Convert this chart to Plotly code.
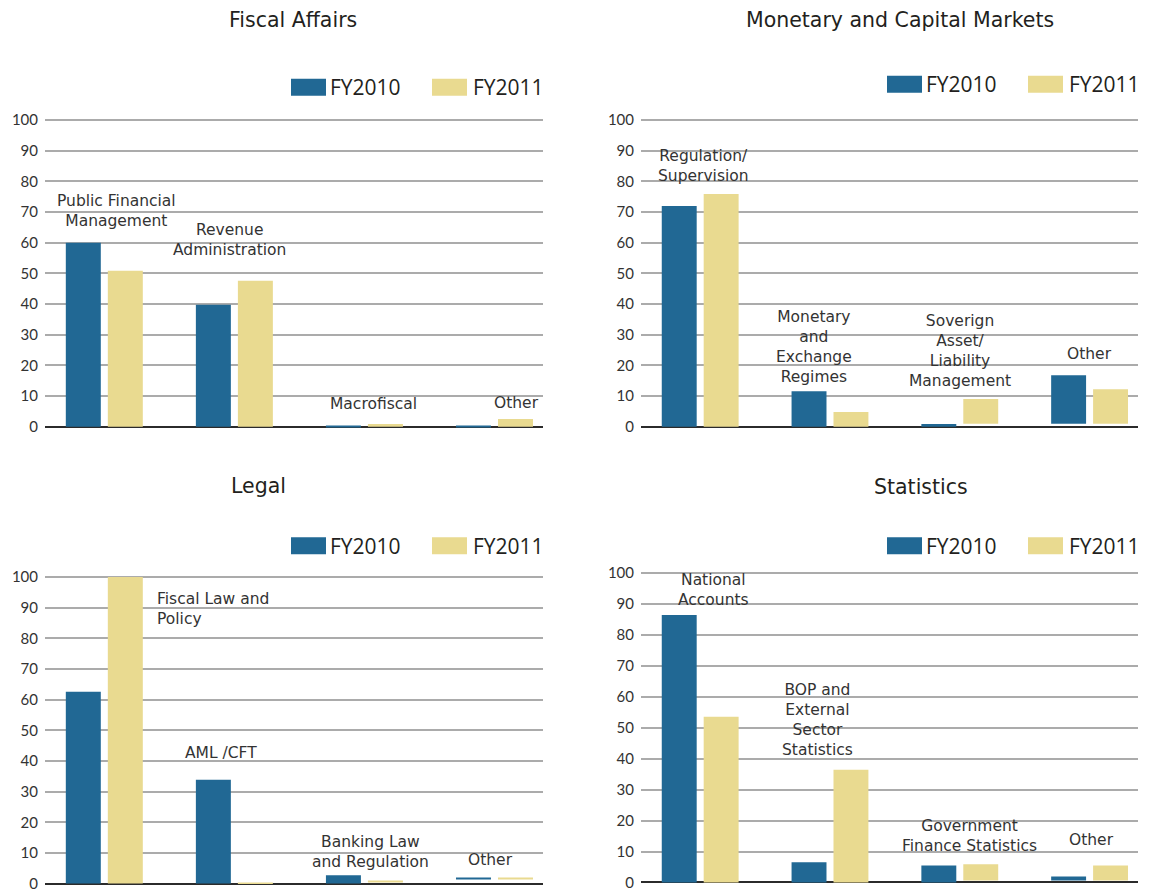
import plotly.graph_objects as go

# ---- series ----
SERIES = ["FY2010", "FY2011"]
BLUE = "#216894"
SAND = "#e9da90"

# ---- Fiscal Affairs ----
fad_categories = ["Public Financial Management", "Revenue Administration", "Macrofiscal", "Other"]
fad_labels = ["Public Financial<br>Management", "Revenue<br>Administration", "Macrofiscal", "Other"]
fad_fy2010 = [60.0, 39.8, 0.3, 0.3]
fad_fy2011 = [50.9, 47.6, 0.9, 2.5]
fad_fy2010_start = [0, 0, 0, 0]
fad_fy2011_start = [0, 0, 0, 0]

# ---- Monetary and Capital Markets ----
mcm_categories = ["Regulation/Supervision", "Monetary and Exchange Regimes",
                  "Soverign Asset/Liability Management", "Other"]
mcm_labels = ["Regulation/<br>Supervision", "Monetary<br>and<br>Exchange<br>Regimes",
              "Soverign<br>Asset/<br>Liability<br>Management", "Other"]
mcm_fy2010 = [72.0, 11.6, 0.9, 16.8]
mcm_fy2011 = [75.9, 4.8, 9.0, 12.2]
mcm_fy2010_start = [0, 0, 0, 1.0]
mcm_fy2011_start = [0, 0, 1.0, 1.0]

# ---- Legal ----
leg_categories = ["Fiscal Law and Policy", "AML /CFT", "Banking Law and Regulation", "Other"]
leg_labels = ["Fiscal Law and<br>Policy", "AML /CFT", "Banking Law<br>and Regulation", "Other"]
leg_fy2010 = [62.6, 33.9, 2.7, 1.7]
leg_fy2011 = [100.0, 0.3, 0.9, 1.7]
leg_fy2010_start = [0, 0, 0, 1.4]
leg_fy2011_start = [0, 0, 0.6, 1.4]

# ---- Statistics ----
sta_categories = ["National Accounts", "BOP and External Sector Statistics",
                  "Government Finance Statistics", "Other"]
sta_labels = ["National<br>Accounts", "BOP and<br>External<br>Sector<br>Statistics",
              "Government<br>Finance Statistics", "Other"]
sta_fy2010 = [86.5, 6.5, 5.5, 1.95]
sta_fy2011 = [53.6, 36.4, 5.85, 5.5]
sta_fy2010_start = [0, 0, 0, 0.65]
sta_fy2011_start = [0, 0, 0.65, 0.65]

Y_TICKS = [0, 10, 20, 30, 40, 50, 60, 70, 80, 90, 100]

W, H = 1150, 892
TITLE_FONT = dict(family="DejaVu Sans", size=20.5, color="#231f20")
LABEL_FONT = dict(family="DejaVu Sans", size=15.5, color="#333333")
TICK_FONT = dict(family="Lato", size=15, color="#333333")
LEGEND_FONT = dict(family="Open Sans", size=21, color="#231f20")

# panel layout (page pixels): plot box, y range, title centre, legend row,
# and label placement (y in data units, x shift in px, anchor)
panels = [
    dict(ax="", title="Fiscal Affairs",
         cats=fad_categories, labels=fad_labels,
         a=fad_fy2010, b=fad_fy2011, a0=fad_fy2010_start, b0=fad_fy2011_start,
         xdom=(45, 543), ydom=(112.6, 427.9), yrange=(-0.5, 100.5),
         title_xy=(293, 12), leg_dx=0, leg_y=72,
         place=[(70.4, 12, "center"), (60.9, -5, "center"), (7.3, 9, "center"), (7.65, 22, "center")]),
    dict(ax="2", title="Monetary and Capital Markets",
         cats=mcm_categories, labels=mcm_labels,
         a=mcm_fy2010, b=mcm_fy2011, a0=mcm_fy2010_start, b0=mcm_fy2011_start,
         xdom=(641, 1138), ydom=(112.6, 427.9), yrange=(-0.5, 100.5),
         title_xy=(900, 12), leg_dx=596, leg_y=69,
         place=[(84.9, 3, "center"), (26.1, -16, "center"), (24.8, 0, "center"), (23.6, 0, "center")]),
    dict(ax="3", title="Legal",
         cats=leg_categories, labels=leg_labels,
         a=leg_fy2010, b=leg_fy2011, a0=leg_fy2010_start, b0=leg_fy2011_start,
         xdom=(45, 543), ydom=(577.9, 892), yrange=(-0.13, 100.5),
         title_xy=(258, 487), leg_dx=0, leg_y=539,
         place=[(89.6, 51, "left"), (42.7, -13, "center"), (10.2, 6, "center"), (7.6, -4, "center")]),
    dict(ax="4", title="Statistics",
         cats=sta_categories, labels=sta_labels,
         a=sta_fy2010, b=sta_fy2011, a0=sta_fy2010_start, b0=sta_fy2011_start,
         xdom=(641, 1138), ydom=(573.9, 892), yrange=(-0.5, 100.5),
         title_xy=(921, 488), leg_dx=596, leg_y=539,
         place=[(94.4, 13, "center"), (52.6, -12, "center"), (15.0, 10, "center"), (13.7, 2, "center")]),
]

fig = go.Figure()
annotations = []
shapes = []

for p in panels:
    xa, ya = "x" + p["ax"], "y" + p["ax"]
    for name, vals, starts, color in ((SERIES[0], p["a"], p["a0"], BLUE),
                                      (SERIES[1], p["b"], p["b0"], SAND)):
        fig.add_trace(go.Bar(
            x=p["cats"], y=[v - s for v, s in zip(vals, starts)], base=starts,
            name=name, marker=dict(color=color, line=dict(width=0)),
            xaxis=xa, yaxis=ya, showlegend=False,
            hovertemplate="%{x}<br>" + name + ": %{y}<extra></extra>",
        ))

    axis_kw = dict(
        domain=[p["xdom"][0] / W, p["xdom"][1] / W],
        type="category", range=[-0.456, 3.373],
        showticklabels=False, showgrid=False, zeroline=False, showline=False,
        fixedrange=True,
    )
    yaxis_kw = dict(
        domain=[max(0.0, 1 - p["ydom"][1] / H), 1 - p["ydom"][0] / H],
        range=list(p["yrange"]), tickvals=Y_TICKS, tickfont=TICK_FONT,
        ticklabelstandoff=6, ticklabeloverflow="allow",
        showgrid=True, gridcolor="#ababab", gridwidth=1.8,
        zeroline=True, zerolinecolor="#2b2b2b", zerolinewidth=2,
        showline=False, ticks="", fixedrange=True,
    )
    fig.update_layout(**{"xaxis" + p["ax"]: dict(axis_kw, anchor=ya),
                         "yaxis" + p["ax"]: dict(yaxis_kw, anchor=xa)})

    # category labels above the bars
    for cat, text, (yv, dx, anchor) in zip(p["cats"], p["labels"], p["place"]):
        annotations.append(dict(
            x=cat, y=yv, xref=xa, yref=ya, text=text, showarrow=False,
            xanchor=anchor, yanchor="middle", align=anchor, xshift=dx,
            font=LABEL_FONT,
        ))

    # panel title
    tx, ty = p["title_xy"]
    annotations.append(dict(x=tx / W, y=1 - ty / H, xref="paper", yref="paper",
                            text=p["title"], showarrow=False, xanchor="center",
                            yanchor="middle", font=TITLE_FONT))

    # legend: swatch + series name
    ly = p["leg_y"]
    for (sx, tx_left), name, color in (((291, 328), SERIES[0], BLUE),
                                       ((432, 471), SERIES[1], SAND)):
        x0 = sx + p["leg_dx"]
        shapes.append(dict(type="rect", xref="paper", yref="paper",
                           x0=x0 / W, x1=(x0 + 35) / W,
                           y0=1 - (ly + 17.3) / H, y1=1 - ly / H,
                           fillcolor=color, line=dict(width=0)))
        annotations.append(dict(x=(tx_left + p["leg_dx"]) / W, y=1 - (ly + 8.7) / H,
                                xref="paper", yref="paper", text=name,
                                showarrow=False, xanchor="left", yanchor="middle",
                                font=LEGEND_FONT))

fig.update_layout(
    width=W, height=H,
    margin=dict(l=0, r=0, t=0, b=0),
    paper_bgcolor="white", plot_bgcolor="white",
    barmode="group", bargap=0.354, bargroupgap=0.167,
    showlegend=False,
    annotations=annotations, shapes=shapes,
    font=dict(family="DejaVu Sans", color="#333333"),
)

fig.write_html("out.html")
